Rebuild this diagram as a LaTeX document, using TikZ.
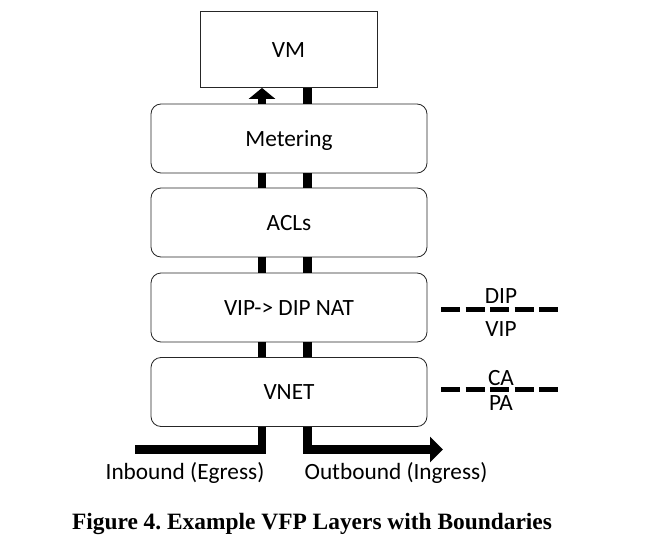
\documentclass[tikz,border=0pt]{standalone}
\usepackage{fontspec}
\setmainfont{Carlito}
\newfontfamily\capfont{Liberation Serif}
\usetikzlibrary{arrows.meta}
\frenchspacing
\begin{document}
\begin{tikzpicture}[x=1pt,y=-1pt,
  txt/.style={font=\fontsize{23.3}{27}\selectfont},
  boxtxt/.style={txt, text height=21pt, text depth=6pt},
  layerbox/.style={boxtxt, draw=black!85, line width=0.8pt, rounded corners=10pt, fill=white,
    minimum width=276pt, minimum height=69pt, inner sep=0pt},
  vmbox/.style={boxtxt, draw=black!85, line width=0.8pt, fill=white,
    minimum width=177pt, minimum height=76pt, inner sep=0pt},
  bar/.style={line width=8.5pt, line join=miter},
  bnd/.style={line width=5pt, dash pattern=on 19pt off 5.5pt},
  lbl/.style={txt, inner sep=0pt, anchor=base},
  captxt/.style={font=\capfont\bfseries\fontsize{23.4}{28}\selectfont, inner sep=0pt, anchor=base}
]
\useasboundingbox (0,0) rectangle (651,546);

\node[vmbox] (vm) at (288.5,49.5) {VM};
\node[layerbox] (met) at (289,138.5) {Metering};
\node[layerbox] (acl) at (289,222.5) {ACLs};
\node[layerbox] (nat) at (289,307.5) {VIP-> DIP NAT};
\node[layerbox] (vnet) at (289,392) {VNET};

\coordinate (L) at (262,0);
\coordinate (R) at (307.5,0);

% vertical bars between layers
\draw[bar, -{Triangle[width=26pt,length=11pt]}] (met.north -| L) -- (vm.south -| L);
\draw[bar] (met.north -| R) -- (vm.south -| R);
\draw[bar] (acl.north -| L) -- (met.south -| L);
\draw[bar] (acl.north -| R) -- (met.south -| R);
\draw[bar] (nat.north -| L) -- (acl.south -| L);
\draw[bar] (nat.north -| R) -- (acl.south -| R);
\draw[bar] (vnet.north -| L) -- (nat.south -| L);
\draw[bar] (vnet.north -| R) -- (nat.south -| R);

% inbound / outbound
\coordinate (inE) at (135,449.5);
\coordinate (outE) at (443,449.5);
\draw[bar] (inE) -- (inE -| L) -- (vnet.south -| L);
\draw[bar, -{Triangle[width=25pt,length=13pt]}] (vnet.south -| R) -- (outE -| R) -- (outE);

\node[lbl] (inlbl) at (185,479) {Inbound (Egress)};
\node[lbl] (outlbl) at (396,479) {Outbound (Ingress)};

% boundaries
\coordinate (b1s) at (441,309);
\coordinate (b1e) at (558,309);
\coordinate (b2s) at (441,389);
\coordinate (b2e) at (558,389);
\draw[bnd] (b1s) -- (b1e);
\draw[bnd] (b2s) -- (b2e);
\node[lbl] (dip) at (501,303.3) {DIP};
\node[lbl] (vip) at (501,336.7) {VIP};
\node[lbl] (ca) at (501,385) {CA};
\node[lbl] (pa) at (501,410) {PA};

\node[captxt] (cap) at (312,529.5) {Figure 4. Example VFP Layers with Boundaries};
\end{tikzpicture}
\end{document}
